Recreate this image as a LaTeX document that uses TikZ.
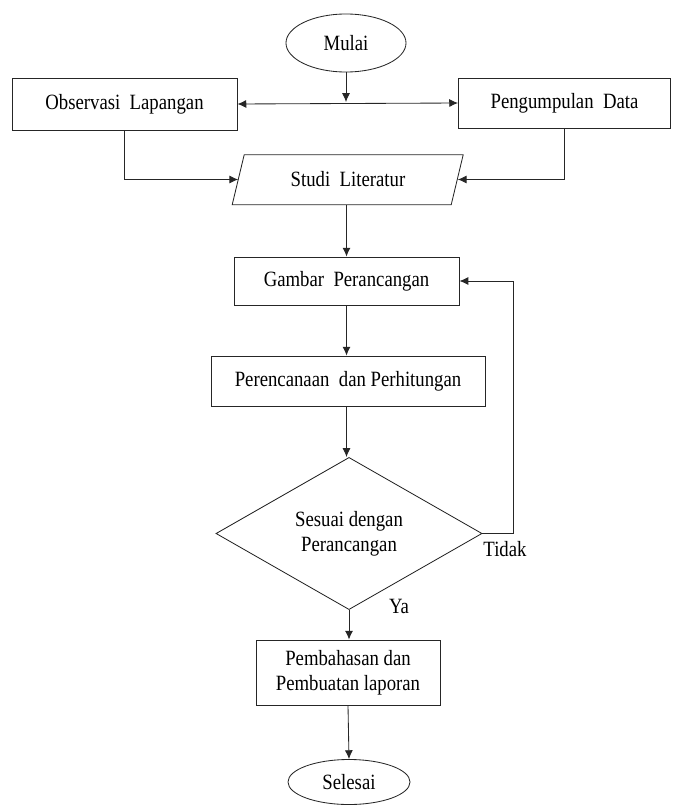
\documentclass[tikz,border=0pt]{standalone}
\usepackage{fontspec}
\setmainfont{Liberation Serif}[FakeStretch=0.86]
\usetikzlibrary{positioning,shapes.geometric,arrows.meta}
\tikzstyle{process}=[rectangle,
        draw=black!85,
        line width=0.6pt,
        align=center,
        inner sep=0pt,
        font=\fontsize{15.5}{17.5}\selectfont, ]
\tikzstyle{terminal}=[ellipse,
        draw=black!85,
        line width=0.6pt,
        inner sep=0pt,
        font=\fontsize{15.5}{17.5}\selectfont, ]
\tikzstyle{literature}=[rectangle,
        inner sep=0pt,
        font=\fontsize{15.5}{17.5}\selectfont, ]
\tikzstyle{decision}=[diamond,
        draw=black!85,
        line width=0.6pt,
        align=center,
        inner sep=0pt,
        font=\fontsize{15.5}{17.5}\selectfont, ]
\tikzstyle{outline}=[draw=black!85, line width=0.6pt, line join=miter]
\tikzstyle{flow}=[draw=black!85, line width=0.6pt, -{Latex[length=2.2mm,width=2mm]}]
\tikzstyle{answer}=[font=\fontsize{15.5}{17.5}\selectfont]

\begin{document}
\begin{tikzpicture}[x=0.025cm, y=-0.025cm]
\useasboundingbox (0,0) rectangle (672,809);

    % start and the two parallel first steps
    \node at (346, 43) (mulai) [terminal, minimum width=3cm, minimum height=1.45cm] {Mulai};
    \node at (124.5, 104) (observasi) [process, minimum width=5.625cm, minimum height=1.3cm] {Observasi\ \ Lapangan};
    \node at (564.5, 103) (pengumpulan) [process, minimum width=5.3cm, minimum height=1.25cm] {Pengumpulan\ \ Data};
    \coordinate (split) at (346, 102);

    % slanted box, sides drawn by hand
    \node at (348, 179.5) (studi) [literature, minimum width=5.475cm, minimum height=1.25cm] {Studi\ \ Literatur};
    \draw[outline] ([xshift=-0.15cm]studi.south west) -- ++(12, -50) -- ++(219, 0) -- ++(-12, 50) -- cycle;

    \node at (346.5, 281) (gambar) [process, minimum width=5.625cm, minimum height=1.2cm] {Gambar\ \ Perancangan};
    \node at (348, 381) (perencanaan) [process, minimum width=6.85cm, minimum height=1.25cm] {Perencanaan\ \ dan Perhitungan};

    \node at (349, 533.5) (cek) [decision, minimum width=6.65cm, minimum height=3.675cm] {Sesuai dengan\\Perancangan};
    \node at (505, 549) (tidak) [answer] {Tidak};
    \node at (399, 606) (ya) [answer] {Ya};

    \node at (348, 672.5) (pembahasan) [process, minimum width=4.6cm, minimum height=1.625cm] {Pembahasan dan\\Pembuatan laporan};
    \node at (349, 782) (selesai) [terminal, minimum width=3.05cm, minimum height=1.125cm] {Selesai};

    % connectors
    \draw[flow] (mulai.south) -- (split);
    \draw[flow, {Latex[length=2.2mm,width=2mm]}-{Latex[length=2.2mm,width=2mm]}] (observasi.east) -- (pengumpulan.west);
    \draw[flow] (observasi.south) |- (studi.west);
    \draw[flow] (pengumpulan.south) |- (studi.east);
    \draw[flow] (studi.south -| gambar.south) -- (gambar.north);
    \draw[flow] (gambar.south) -- (gambar.south |- perencanaan.north);
    \draw[flow] (perencanaan.south -| gambar.south) -- (cek.north -| gambar.south);
    \draw[flow] (cek.east) -- ++(31, 0) |- (gambar.east);
    \draw[flow] (cek.south) -- (cek.south |- pembahasan.north);
    \draw[flow] (pembahasan.south) -- (selesai.north);

\end{tikzpicture}
\end{document}
